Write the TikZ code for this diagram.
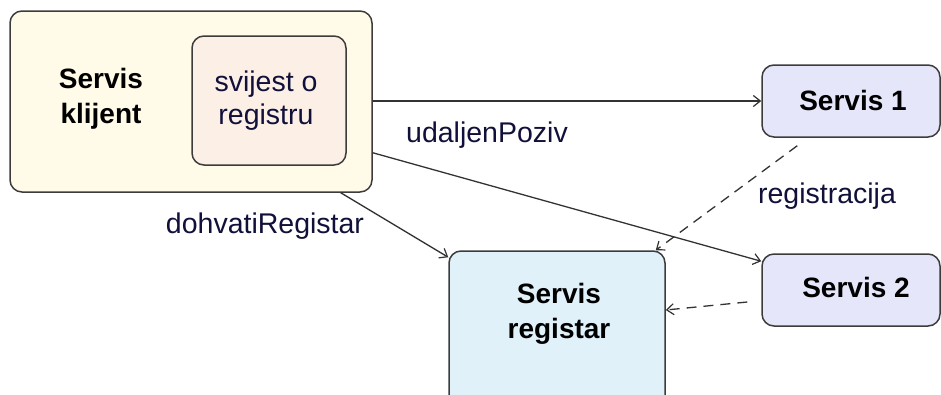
\documentclass[tikz,border=0pt]{standalone}
\usepackage{fontspec}
\setmainfont{Liberation Sans}
\usetikzlibrary{arrows.meta,calc}
\definecolor{bordc}{HTML}{3C3C3C}
\definecolor{linec}{HTML}{333333}
\definecolor{clientc}{HTML}{FFFBE8}
\definecolor{innerc}{HTML}{FCEFE6}
\definecolor{servc}{HTML}{E6E6FA}
\definecolor{regc}{HTML}{E0F1FA}
\definecolor{textc}{HTML}{10103A}
\begin{document}
\begin{tikzpicture}[x=1pt,y=-1pt,
  box/.style={draw=bordc, line width=1.5pt, rounded corners=12pt, inner sep=0pt},
  btext/.style={font=\fontsize{28}{35}\selectfont\bfseries, align=center, text=black, inner sep=0pt},
  rtext/.style={font=\fontsize{28.5}{33}\selectfont, align=center, text=textc, inner sep=0pt},
  conn/.style={draw=linec, line width=1.3pt, -{Straight Barb[length=7pt,width=11pt,line width=1.2pt]}},
  dconn/.style={conn, dash pattern=on 10pt off 7pt}
]
\useasboundingbox (0,0) rectangle (941,394);
% boxes
\node[box, fill=clientc, minimum width=362, minimum height=181] (client) at (191,101.5) {};
\node[box, fill=innerc, minimum width=154, minimum height=129] (inner) at (269,100.5) {};
\node[box, fill=servc, minimum width=178, minimum height=72] (s1) at (851,101) {};
\node[box, fill=servc, minimum width=178, minimum height=72] (s2) at (851,290) {};
\node[box, fill=regc, minimum width=216, minimum height=189] (reg) at (557,345.5) {};
% texts
\node[btext] (tclient) at (101,99) {Servis\\klijent};
\node[rtext] (tinner) at (266,101) {svijest o\\registru};
\node[btext] (ts1) at (853,100) {Servis 1};
\node[btext] (ts2) at (856,287) {Servis 2};
\node[btext] (treg) at (559,314) {Servis\\registar};
% connectors
\draw[conn] (client.east |- s1.west) -- (s1.west);
\draw[conn] ([yshift=40pt]client.south east) -- ([yshift=-8pt]s2.north west);
\draw[conn] ([xshift=-32pt]client.south east) -- ([yshift=-7pt]reg.north west);
\draw[dconn] ([xshift=36pt,yshift=-8pt]s1.south west) -- ([xshift=-10pt]reg.north east);
\draw[dconn] ([xshift=-14pt,yshift=-12pt]s2.west) -- ([yshift=35.5pt]reg.east);
% labels
\node[rtext] (lup) at (487,135) {udaljenPoziv};
\node[rtext, fill=white, inner sep=2pt] (ldr) at (265,226) {dohvatiRegistar};
\node[rtext, fill=white, inner sep=2pt] (lreg) at (827,196) {registracija};
\end{tikzpicture}
\end{document}
